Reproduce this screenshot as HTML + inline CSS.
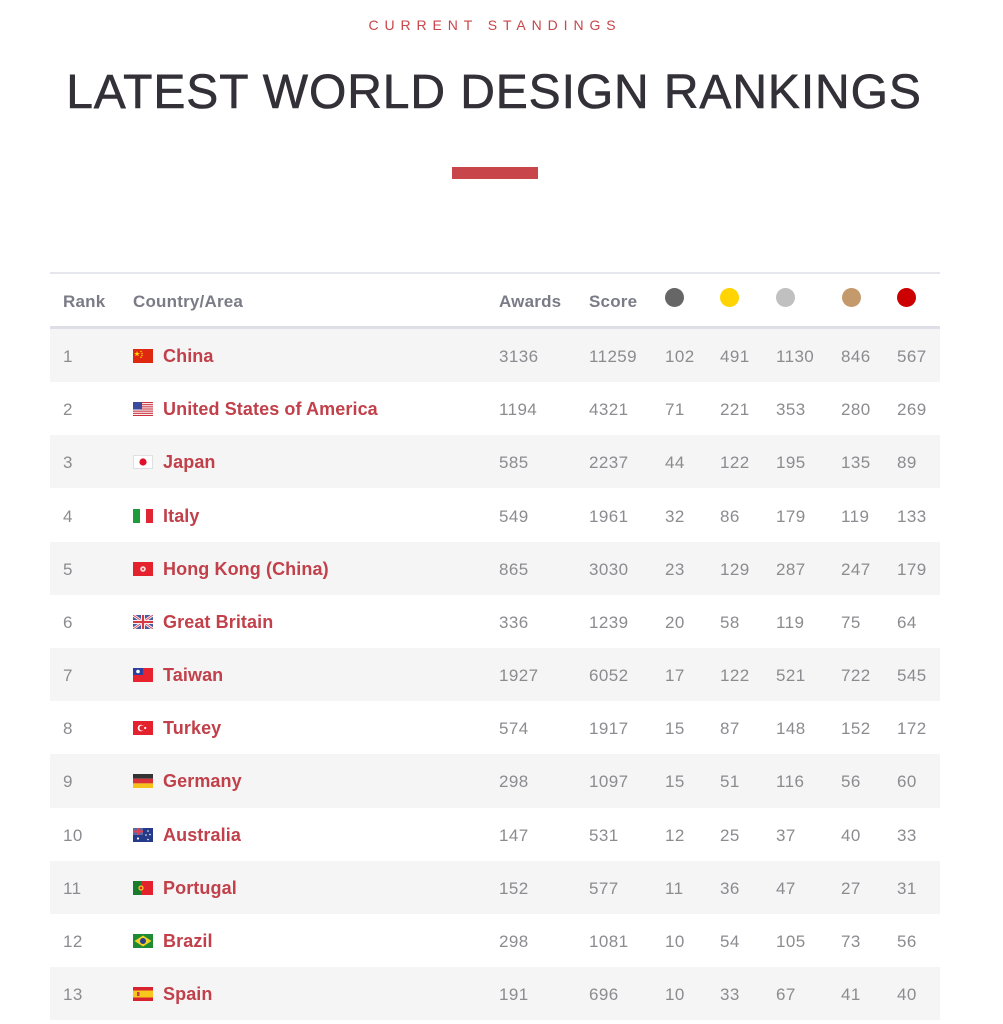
<!DOCTYPE html>
<html>
<head>
<meta charset="utf-8">
<style>
  html,body{margin:0;padding:0;background:#fff;}
  body{width:1003px;height:1024px;position:relative;overflow:hidden;font-family:"Liberation Sans",Arial,sans-serif;}
  .sub{position:absolute;left:0;width:990px;top:18px;text-align:center;font-size:14px;line-height:14px;letter-spacing:5.9px;color:#c8454a;}
  .title{position:absolute;left:0;width:988px;top:69px;text-align:center;font-size:48px;line-height:48px;letter-spacing:0.9px;color:#333038;font-weight:normal;-webkit-text-stroke:0.6px #333038;}
  .bar{position:absolute;left:452px;top:167px;width:86px;height:12px;background:#c8454a;}
  .tline{position:absolute;left:50px;width:890px;height:2px;background:#e6e6ed;}
  .hd{position:absolute;top:293px;font-size:17px;line-height:17px;font-weight:bold;color:#7b7b87;letter-spacing:0.2px;}
  .dot{position:absolute;top:288px;width:19px;height:19px;border-radius:50%;}
  .row{position:absolute;left:50px;width:890px;height:53.17px;}
  .row.g{background:#f5f5f5;}
  .c{position:absolute;top:1px;line-height:53.17px;font-size:17px;color:#8c8c90;white-space:nowrap;letter-spacing:0.4px;}
  .n{position:absolute;top:1px;left:113px;line-height:53.17px;font-size:18px;font-weight:bold;color:#c1404a;white-space:nowrap;letter-spacing:0.1px;}
  .f{position:absolute;left:83px;top:20px;width:20px;height:14px;}
</style>
</head>
<body>
<div class="sub">CURRENT STANDINGS</div>
<div class="title">LATEST WORLD DESIGN RANKINGS</div>
<div class="bar"></div>

<div class="tline" style="top:272px;"></div>
<div class="hd" style="left:63px;">Rank</div>
<div class="hd" style="left:133px;">Country/Area</div>
<div class="hd" style="left:499px;">Awards</div>
<div class="hd" style="left:589px;">Score</div>
<div class="dot" style="left:665px;background:#666666;"></div>
<div class="dot" style="left:720px;background:#ffd400;"></div>
<div class="dot" style="left:776px;background:#c0c0c0;"></div>
<div class="dot" style="left:842px;background:#c49a6c;"></div>
<div class="dot" style="left:897px;background:#cc0000;"></div>
<div class="tline" style="top:326px;height:3px;background:#dedee6;"></div>

<!-- Row 1 -->
<div class="row g" style="top:329px;">
  <div class="c" style="left:13px;">1</div>
  <svg class="f" viewBox="0 0 20 14"><rect width="20" height="14" fill="#de2910"/><polygon points="4,2 4.7,4 6.8,4 5.1,5.2 5.8,7.2 4,6 2.2,7.2 2.9,5.2 1.2,4 3.3,4" fill="#ffde00"/><circle cx="8" cy="2.5" r="0.7" fill="#ffde00"/><circle cx="9" cy="4.5" r="0.7" fill="#ffde00"/><circle cx="9" cy="6.5" r="0.7" fill="#ffde00"/><circle cx="8" cy="8.3" r="0.7" fill="#ffde00"/></svg>
  <div class="n">China</div>
  <div class="c" style="left:449px;">3136</div>
  <div class="c" style="left:539px;">11259</div>
  <div class="c" style="left:615px;">102</div>
  <div class="c" style="left:670px;">491</div>
  <div class="c" style="left:726px;">1130</div>
  <div class="c" style="left:791px;">846</div>
  <div class="c" style="left:847px;">567</div>
</div>

<!-- Row 2 -->
<div class="row" style="top:382.17px;">
  <div class="c" style="left:13px;">2</div>
  <svg class="f" viewBox="0 0 20 14"><rect width="20" height="14" fill="#fff"/><rect y="0" width="20" height="1.1" fill="#c8313e"/><rect y="2.15" width="20" height="1.1" fill="#c8313e"/><rect y="4.3" width="20" height="1.1" fill="#c8313e"/><rect y="6.45" width="20" height="1.1" fill="#c8313e"/><rect y="8.6" width="20" height="1.1" fill="#c8313e"/><rect y="10.75" width="20" height="1.1" fill="#c8313e"/><rect y="12.9" width="20" height="1.1" fill="#c8313e"/><rect width="9" height="7.5" fill="#3c4a9b"/></svg>
  <div class="n">United States of America</div>
  <div class="c" style="left:449px;">1194</div>
  <div class="c" style="left:539px;">4321</div>
  <div class="c" style="left:615px;">71</div>
  <div class="c" style="left:670px;">221</div>
  <div class="c" style="left:726px;">353</div>
  <div class="c" style="left:791px;">280</div>
  <div class="c" style="left:847px;">269</div>
</div>

<!-- Row 3 -->
<div class="row g" style="top:435.34px;">
  <div class="c" style="left:13px;">3</div>
  <svg class="f" viewBox="0 0 20 14"><rect x="0.5" y="0.5" width="19" height="13" fill="#fff" stroke="#e0e0e0"/><circle cx="10" cy="7" r="3.6" fill="#e0102a"/></svg>
  <div class="n">Japan</div>
  <div class="c" style="left:449px;">585</div>
  <div class="c" style="left:539px;">2237</div>
  <div class="c" style="left:615px;">44</div>
  <div class="c" style="left:670px;">122</div>
  <div class="c" style="left:726px;">195</div>
  <div class="c" style="left:791px;">135</div>
  <div class="c" style="left:847px;">89</div>
</div>

<!-- Row 4 -->
<div class="row" style="top:488.51px;">
  <div class="c" style="left:13px;">4</div>
  <svg class="f" viewBox="0 0 20 14"><rect width="7" height="14" fill="#1f9a3a"/><rect x="7" width="6" height="14" fill="#fff"/><rect x="13" width="7" height="14" fill="#e02633"/></svg>
  <div class="n">Italy</div>
  <div class="c" style="left:449px;">549</div>
  <div class="c" style="left:539px;">1961</div>
  <div class="c" style="left:615px;">32</div>
  <div class="c" style="left:670px;">86</div>
  <div class="c" style="left:726px;">179</div>
  <div class="c" style="left:791px;">119</div>
  <div class="c" style="left:847px;">133</div>
</div>

<!-- Row 5 -->
<div class="row g" style="top:541.68px;">
  <div class="c" style="left:13px;">5</div>
  <svg class="f" viewBox="0 0 20 14"><rect width="20" height="14" fill="#e3222e"/><circle cx="10" cy="7" r="2.8" fill="#fbd6d8"/><circle cx="10" cy="7" r="1" fill="#e3222e"/></svg>
  <div class="n">Hong Kong (China)</div>
  <div class="c" style="left:449px;">865</div>
  <div class="c" style="left:539px;">3030</div>
  <div class="c" style="left:615px;">23</div>
  <div class="c" style="left:670px;">129</div>
  <div class="c" style="left:726px;">287</div>
  <div class="c" style="left:791px;">247</div>
  <div class="c" style="left:847px;">179</div>
</div>

<!-- Row 6 -->
<div class="row" style="top:594.85px;">
  <div class="c" style="left:13px;">6</div>
  <svg class="f" viewBox="0 0 20 14"><rect width="20" height="14" fill="#4a5aa0"/><path d="M0,0 L20,14 M20,0 L0,14" stroke="#fff" stroke-width="2.6"/><path d="M0,0 L20,14 M20,0 L0,14" stroke="#d33a48" stroke-width="0.9"/><rect x="8" width="4" height="14" fill="#fff"/><rect y="5" width="20" height="4" fill="#fff"/><rect x="8.9" width="2.2" height="14" fill="#d33a48"/><rect y="5.9" width="20" height="2.2" fill="#d33a48"/></svg>
  <div class="n">Great Britain</div>
  <div class="c" style="left:449px;">336</div>
  <div class="c" style="left:539px;">1239</div>
  <div class="c" style="left:615px;">20</div>
  <div class="c" style="left:670px;">58</div>
  <div class="c" style="left:726px;">119</div>
  <div class="c" style="left:791px;">75</div>
  <div class="c" style="left:847px;">64</div>
</div>

<!-- Row 7 -->
<div class="row g" style="top:648.02px;">
  <div class="c" style="left:13px;">7</div>
  <svg class="f" viewBox="0 0 20 14"><rect width="20" height="14" fill="#e8222e"/><rect width="10" height="7" fill="#2a3f9e"/><circle cx="5" cy="3.5" r="1.8" fill="#fff"/></svg>
  <div class="n">Taiwan</div>
  <div class="c" style="left:449px;">1927</div>
  <div class="c" style="left:539px;">6052</div>
  <div class="c" style="left:615px;">17</div>
  <div class="c" style="left:670px;">122</div>
  <div class="c" style="left:726px;">521</div>
  <div class="c" style="left:791px;">722</div>
  <div class="c" style="left:847px;">545</div>
</div>

<!-- Row 8 -->
<div class="row" style="top:701.19px;">
  <div class="c" style="left:13px;">8</div>
  <svg class="f" viewBox="0 0 20 14"><rect width="20" height="14" fill="#e3222e"/><circle cx="8" cy="7" r="3.3" fill="#fff"/><circle cx="9" cy="7" r="2.6" fill="#e3222e"/><circle cx="12.2" cy="7" r="1.1" fill="#fff"/></svg>
  <div class="n">Turkey</div>
  <div class="c" style="left:449px;">574</div>
  <div class="c" style="left:539px;">1917</div>
  <div class="c" style="left:615px;">15</div>
  <div class="c" style="left:670px;">87</div>
  <div class="c" style="left:726px;">148</div>
  <div class="c" style="left:791px;">152</div>
  <div class="c" style="left:847px;">172</div>
</div>

<!-- Row 9 -->
<div class="row g" style="top:754.36px;">
  <div class="c" style="left:13px;">9</div>
  <svg class="f" viewBox="0 0 20 14"><rect width="20" height="4.7" fill="#333"/><rect y="4.7" width="20" height="4.7" fill="#d8313a"/><rect y="9.4" width="20" height="4.6" fill="#f4c21a"/></svg>
  <div class="n">Germany</div>
  <div class="c" style="left:449px;">298</div>
  <div class="c" style="left:539px;">1097</div>
  <div class="c" style="left:615px;">15</div>
  <div class="c" style="left:670px;">51</div>
  <div class="c" style="left:726px;">116</div>
  <div class="c" style="left:791px;">56</div>
  <div class="c" style="left:847px;">60</div>
</div>

<!-- Row 10 -->
<div class="row" style="top:807.53px;">
  <div class="c" style="left:13px;">10</div>
  <svg class="f" viewBox="0 0 20 14"><rect width="20" height="14" fill="#263a8a"/><rect width="10" height="7" fill="#5a68a8"/><rect x="4" width="2" height="7" fill="#e04050"/><rect y="2.5" width="10" height="2" fill="#e04050"/><circle cx="5" cy="10.5" r="1.1" fill="#fff"/><circle cx="15" cy="3" r="0.8" fill="#fff"/><circle cx="13" cy="7" r="0.8" fill="#fff"/><circle cx="17" cy="6.5" r="0.8" fill="#fff"/><circle cx="15" cy="11.5" r="0.8" fill="#fff"/></svg>
  <div class="n">Australia</div>
  <div class="c" style="left:449px;">147</div>
  <div class="c" style="left:539px;">531</div>
  <div class="c" style="left:615px;">12</div>
  <div class="c" style="left:670px;">25</div>
  <div class="c" style="left:726px;">37</div>
  <div class="c" style="left:791px;">40</div>
  <div class="c" style="left:847px;">33</div>
</div>

<!-- Row 11 -->
<div class="row g" style="top:860.7px;">
  <div class="c" style="left:13px;">11</div>
  <svg class="f" viewBox="0 0 20 14"><rect width="8" height="14" fill="#1a7a2e"/><rect x="8" width="12" height="14" fill="#e3222e"/><circle cx="8" cy="7" r="2.6" fill="#f5d020"/><circle cx="8" cy="7" r="1.4" fill="#e3222e"/></svg>
  <div class="n">Portugal</div>
  <div class="c" style="left:449px;">152</div>
  <div class="c" style="left:539px;">577</div>
  <div class="c" style="left:615px;">11</div>
  <div class="c" style="left:670px;">36</div>
  <div class="c" style="left:726px;">47</div>
  <div class="c" style="left:791px;">27</div>
  <div class="c" style="left:847px;">31</div>
</div>

<!-- Row 12 -->
<div class="row" style="top:913.87px;">
  <div class="c" style="left:13px;">12</div>
  <svg class="f" viewBox="0 0 20 14"><rect width="20" height="14" fill="#1f8a34"/><polygon points="10,1.5 18.5,7 10,12.5 1.5,7" fill="#f5d020"/><circle cx="10" cy="7" r="3" fill="#2a3f8e"/></svg>
  <div class="n">Brazil</div>
  <div class="c" style="left:449px;">298</div>
  <div class="c" style="left:539px;">1081</div>
  <div class="c" style="left:615px;">10</div>
  <div class="c" style="left:670px;">54</div>
  <div class="c" style="left:726px;">105</div>
  <div class="c" style="left:791px;">73</div>
  <div class="c" style="left:847px;">56</div>
</div>

<!-- Row 13 -->
<div class="row g" style="top:967.04px;">
  <div class="c" style="left:13px;">13</div>
  <svg class="f" viewBox="0 0 20 14"><rect width="20" height="14" fill="#d8222e"/><rect y="3.5" width="20" height="7" fill="#f6c81e"/><rect x="4" y="5" width="2.5" height="4" fill="#c0404a"/></svg>
  <div class="n">Spain</div>
  <div class="c" style="left:449px;">191</div>
  <div class="c" style="left:539px;">696</div>
  <div class="c" style="left:615px;">10</div>
  <div class="c" style="left:670px;">33</div>
  <div class="c" style="left:726px;">67</div>
  <div class="c" style="left:791px;">41</div>
  <div class="c" style="left:847px;">40</div>
</div>

</body>
</html>
